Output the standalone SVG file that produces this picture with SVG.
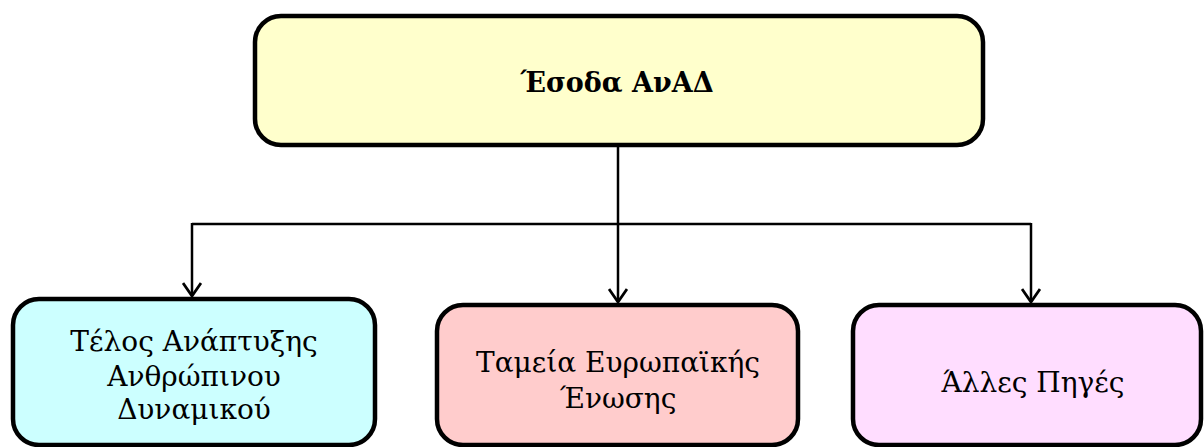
<svg xmlns="http://www.w3.org/2000/svg" width="1204" height="447" viewBox="0 0 1204 447">
<style>
.box{stroke:#000;stroke-width:4.5}
.t{font-family:"DejaVu Serif","Liberation Serif",serif;font-size:28px;fill:#000;text-anchor:middle}
.b{font-weight:bold;font-size:27px}
.c{fill:none;stroke:#000;stroke-width:2.5}
</style>
<defs>
<marker id="arr" markerUnits="userSpaceOnUse" viewBox="0 0 16 20" refX="14" refY="10" markerWidth="16" markerHeight="20" orient="auto">
<path d="M1,1 L14,10 L1,19" fill="none" stroke="#000" stroke-width="2.8"/>
</marker>
</defs>
<rect width="1204" height="447" fill="#fff"/>
<g id="connectors">
<path class="c" d="M618,147 V224"/>
<path class="c" d="M192,224 H1031"/>
<path class="c" d="M192,223 V296" marker-end="url(#arr)"/>
<path class="c" d="M618,224 V302" marker-end="url(#arr)"/>
<path class="c" d="M1031,223 V302" marker-end="url(#arr)"/>
</g>
<g id="node-top">
<rect class="box" x="255" y="16" width="728" height="129" rx="26" fill="#FFFFCC"/>
<text class="t b" x="617" y="92">Έσοδα ΑνΑΔ</text>
</g>
<g id="node-1">
<rect class="box" x="13" y="299" width="362" height="146" rx="26" fill="#CCFFFF"/>
<text class="t" x="194" y="351">Τέλος Ανάπτυξης</text>
<text class="t" x="194" y="386">Ανθρώπινου</text>
<text class="t" x="194" y="419">Δυναμικού</text>
</g>
<g id="node-2">
<rect class="box" x="437" y="305" width="361" height="140" rx="26" fill="#FFCCCC"/>
<text class="t" x="618" y="372">Ταμεία Ευρωπαϊκής</text>
<text class="t" x="618" y="408">Ένωσης</text>
</g>
<g id="node-3">
<rect class="box" x="853" y="305" width="348" height="140" rx="26" fill="#FFDDFF"/>
<text class="t" x="1033" y="392">Άλλες Πηγές</text>
</g>
</svg>
